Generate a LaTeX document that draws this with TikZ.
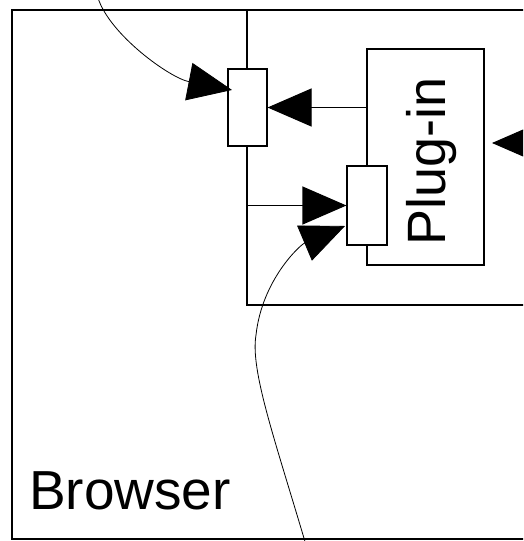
\documentclass[tikz,border=0pt]{standalone}
\usepackage{fontspec}
\setmainfont{Liberation Sans}
\usetikzlibrary{arrows.meta}
\begin{document}
\begin{tikzpicture}[x=1pt,y=-1pt,
  frame/.style={line width=1.1pt},
  smallbox/.style={draw,line width=1.1pt,fill=white,minimum width=39pt,minimum height=77pt,inner sep=0pt},
  plugbox/.style={draw,line width=1.1pt,fill=white,minimum width=117pt,minimum height=216pt,inner sep=0pt},
  arr/.style={line width=1.1pt,-{Triangle[length=44pt,width=38pt]}},
  carr/.style={line width=0.8pt,-{Triangle[length=44pt,width=38pt]}},
  lbl/.style={font=\fontsize{54}{60}\selectfont,inner sep=0pt}]
\useasboundingbox (0,0) rectangle (523,541);
\clip (0,0) rectangle (523,541);
\fill[white] (0,0) rectangle (523,541);
% Browser frame
\draw[frame] (540,10) -- (12,10) -- (12,539) -- (540,539);
% inner frame
\draw[frame] (247,10) -- (247,305) -- (540,305);
% Plug-in box
\node[plugbox] (plugin) at (425.5,157) {};
\node[lbl,rotate=90,anchor=base west] (plugtxt) at (445,246) {Plug-in};
% small boxes
\node[smallbox] (box1) at (247.5,107.5) {};
\node[smallbox,minimum width=40pt,minimum height=79pt] (box2) at (367,205.5) {};
% connectors
\draw[arr] (box1.east -| plugin.west) -- (box1.east);
\draw[arr] (box2.west -| box1.south) -- (box2.west);
\coordinate (rin) at (540,143);
\coordinate (rtip) at (492,143);
\draw[arr] (rin) -- (rtip);
\coordinate (tstart) at (98,-2);
\coordinate (ttip) at (232,90);
\draw[carr] (tstart) .. controls (110,35) and (170,78) .. (ttip);
\coordinate (bstart) at (306,545);
\coordinate (bmid) at (256,335);
\coordinate (btip) at (345,226);
\draw[carr] (bstart) .. controls (275,440) and (250,370) .. (bmid)
  .. controls (262,280) and (300,245) .. (btip);
% label
\node[lbl,font=\fontsize{55}{60}\selectfont,anchor=base west] (browser) at (29,509) {Browser};
\end{tikzpicture}
\end{document}
